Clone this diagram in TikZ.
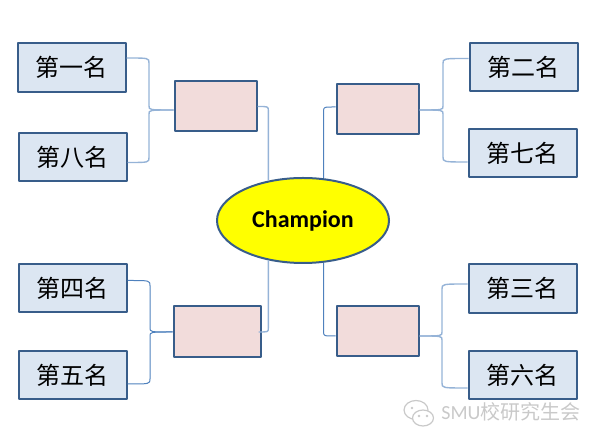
\documentclass[tikz,border=0pt]{standalone}
\usepackage{fontspec}
\setmainfont{Carlito}
\newfontfamily\cjk{Noto Sans CJK SC}
\usetikzlibrary{calc, positioning}
\usetikzlibrary{shapes.geometric}

\definecolor{boxline}{HTML}{385D8A}
\definecolor{rankfill}{HTML}{DCE6F2}
\definecolor{slotfill}{HTML}{F2DCDB}
\definecolor{linkdark}{HTML}{4F81BD}
\definecolor{linklight}{HTML}{95B3D7}
\definecolor{markgray}{HTML}{C9C9C9}
\definecolor{champfill}{HTML}{FFFF00}

\tikzset{
  rankbox/.style={draw=boxline, fill=rankfill, line width=2pt, minimum width=108pt, minimum height=48.5pt,
    inner sep=0pt, font=\cjk\fontsize{24}{26}\selectfont},
  slotbox/.style={draw=boxline, fill=slotfill, line width=2pt, inner sep=0pt},
  darklink/.style={draw=linkdark, line width=1pt},
  lightlink/.style={draw=linklight, line width=1.4pt},
}

% start, end, and the point whose x gives the riser
\newcommand{\riser}[4][darklink]{%
  \draw[#1] (#2) .. controls (#2 -| #4) .. ($(#2 -| #4)!5pt!(#3 -| #4)$)
    -- ($(#3 -| #4)!4pt!(#2 -| #4)$) .. controls (#3 -| #4) .. (#3);
}
% start and a point on the ellipse, turning once
\newcommand{\elbow}[3][darklink]{%
  \draw[#1] (#2) .. controls (#2 -| #3) .. ($(#2 -| #3)!4pt!(#3)$) -- (#3);
}

\begin{document}
\begin{tikzpicture}[x=1pt, y=1pt, line join=round]
\useasboundingbox (0,0) rectangle (602,443);

% Left side
\node[rankbox] (first) at (71.5,375.5) {第一名};
\node[rankbox] (eighth) at (72.5,286) {第八名};
\node[rankbox] (fourth) at (72.5,155) {第四名};
\node[rankbox] (fifth) at (72.5,68) {第五名};
\node[slotbox, minimum width=82pt, minimum height=50pt] (slotA) at (215.5,336.5) {};
\node[slotbox, minimum width=87pt, minimum height=51pt] (slotC) at (217,111) {};

% Right side
\node[rankbox] (second) at (523.5,376) {第二名};
\node[rankbox] (seventh) at (522.5,290) {第七名};
\node[rankbox] (third) at (522.5,154.5) {第三名};
\node[rankbox] (sixth) at (522.5,68) {第六名};
\node[slotbox, minimum width=82pt, minimum height=50pt] (slotB) at (377.5,333.5) {};
\node[slotbox, minimum width=82pt, minimum height=50pt] (slotD) at (377.5,111.5) {};

% Centre
\node[draw=boxline, fill=champfill, line width=2pt, ellipse, minimum width=172pt, minimum height=85pt, inner sep=0pt,
  font=\bfseries\fontsize{24}{26}\selectfont] (champ) at (303,222.5) {\raisebox{-2pt}{Champion}};

% Where the links leave the boxes
\coordinate (firstout) at ([yshift=9.5pt]first.east);
\coordinate (eighthout) at ([yshift=-5.5pt]eighth.east);
\coordinate (slotAin) at ([yshift=-3.5pt]slotA.west);
\coordinate (secondout) at ([yshift=8.5pt]second.west);
\coordinate (seventhout) at ([yshift=-9pt]seventh.west);
\coordinate (slotBin) at ([yshift=-0.5pt]slotB.east);
\coordinate (fourthout) at ([yshift=7.5pt]fourth.east);
\coordinate (fifthout) at ([yshift=-9pt]fifth.east);
\coordinate (slotCin) at (slotC.west);
\coordinate (thirdout) at ([yshift=4.5pt]third.west);
\coordinate (sixthout) at ([yshift=-13pt]sixth.west);
\coordinate (slotDin) at ([yshift=-4.5pt]slotD.east);

% Risers between rank boxes and slots
\coordinate (riseA) at (149,0);
\coordinate (riseB) at (443,0);
\coordinate (riseC) at (150,0);
\coordinate (riseD) at (442,0);
\riser[lightlink]{firstout}{slotAin}{riseA}
\riser[lightlink]{eighthout}{slotAin}{riseA}
\riser[lightlink]{secondout}{slotBin}{riseB}
\riser[lightlink]{seventhout}{slotBin}{riseB}
\riser{fourthout}{slotCin}{riseC}
\riser{fifthout}{slotCin}{riseC}
\riser[lightlink]{thirdout}{slotDin}{riseD}
\riser[lightlink]{sixthout}{slotDin}{riseD}

% Slots to the champion
\coordinate (slotAout) at (slotA.east);
\coordinate (slotBout) at ([yshift=2.5pt]slotB.west);
\coordinate (slotCout) at ([xshift=-3pt]slotC.east);
\coordinate (slotDout) at ([yshift=-4.5pt]slotD.west);
\elbow[lightlink]{slotAout}{champ.131}
\elbow{slotBout}{champ.64}
\elbow[lightlink]{slotCout}{champ.229}
\elbow{slotDout}{champ.296}

% Watermark
\draw[markgray, line width=1.2pt] (416,33) ellipse (12pt and 9.5pt);
\draw[markgray, line width=1.2pt, fill=white] (423,25) ellipse (10.5pt and 8pt);
\fill[markgray] (412,35) circle (1.3pt) (419,27) circle (1.3pt) (427,27) circle (1.3pt);
\node[text=markgray, font=\fontsize{20}{22}\selectfont, inner sep=0pt] (mark) at (511,31) {SMU{\cjk 校研究生会}};
\end{tikzpicture}
\end{document}
